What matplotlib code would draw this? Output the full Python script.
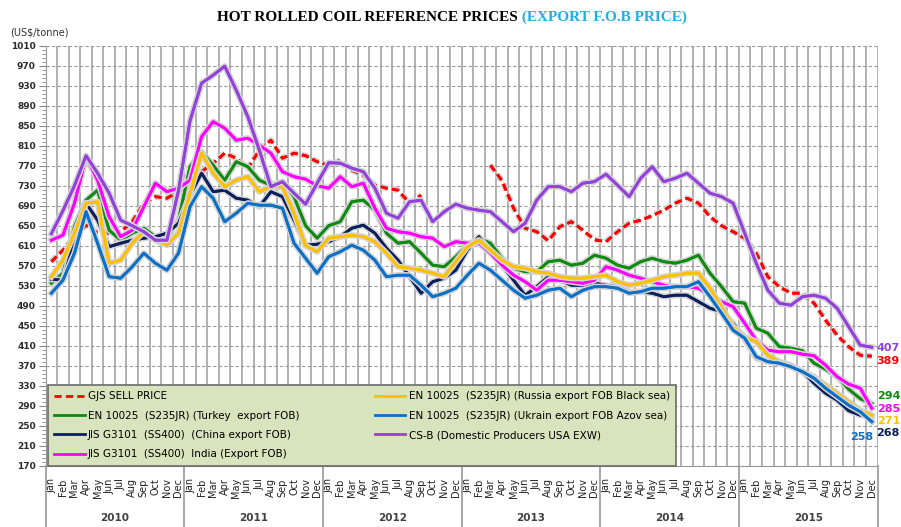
import matplotlib
matplotlib.use('Agg')
import matplotlib.pyplot as plt
import matplotlib.patheffects as pe
import matplotlib.transforms as mtransforms
import numpy as np

nan = np.nan

months = ['Jan', 'Feb', 'Mar', 'Apr', 'May', 'Jun',
          'Jul', 'Aug', 'Sep', 'Oct', 'Nov', 'Dec']
years = ['2010', '2011', '2012', '2013', '2014', '2015']

# monthly prices, Jan 2010 .. Dec 2015 (US$/tonne)
gjs = [578, 601, 628, 651, 636, 635, 638, 658, 695, 708, 705, 718,
       728, 758, 775, 795, 785, 765, 801, 821, 785, 795, 790, 778,
       770, 781, 761, 751, 731, 725, 721, 695, 711, nan, nan, nan,
       nan, nan, 771, 740, 685, 645, 638, 620, 648, 658, 641, 622,
       618, 638, 655, 661, 670, 681, 695, 705, 695, 668, 650, 638,
       625, 595, 548, 528, 515, 515, 495, 461, 431, 408, 391, 389]
turkey = [535, 555, 648, 701, 721, 641, 621, 635, 645, 628, 625, 661,
          768, 798, 771, 741, 778, 768, 741, 731, 738, 708, 650, 625,
          650, 658, 698, 701, 681, 635, 615, 618, 595, 571, 568, 588,
          611, 625, 615, 585, 565, 558, 558, 578, 581, 571, 575, 591,
          585, 571, 565, 578, 585, 578, 575, 581, 591, 555, 528, 498,
          495, 445, 435, 408, 405, 400, 375, 363, 348, 323, 304, 294]
china = [543, 541, 621, 695, 661, 608, 615, 621, 625, 628, 635, 655,
         711, 755, 718, 721, 705, 701, 688, 718, 708, 661, 611, 613,
         618, 628, 645, 651, 635, 605, 581, 548, 515, 538, 545, 561,
         601, 628, 598, 571, 541, 511, 528, 548, 541, 531, 531, 535,
         531, 528, 518, 518, 515, 508, 511, 511, 498, 485, 478, 455,
         423, 385, 378, 376, 368, 358, 335, 315, 301, 280, 271, 268]
india = [621, 631, 695, 788, 741, 668, 628, 641, 688, 735, 718, 725,
         741, 828, 858, 845, 821, 825, 811, 795, 758, 748, 743, 730,
         725, 748, 728, 735, 685, 645, 638, 635, 628, 625, 608, 618,
         615, 615, 595, 571, 551, 538, 521, 541, 541, 538, 535, 541,
         568, 561, 551, 545, 538, 531, 528, 528, 525, 511, 498, 488,
         455, 421, 401, 398, 398, 393, 390, 371, 348, 333, 325, 285]
russia = [548, 581, 635, 695, 698, 575, 581, 615, 638, 621, 611, 635,
          715, 795, 755, 728, 741, 748, 718, 728, 728, 675, 610, 598,
          625, 628, 631, 628, 618, 595, 568, 565, 561, 555, 548, 578,
          608, 621, 601, 581, 568, 565, 558, 555, 548, 545, 545, 548,
          551, 538, 531, 535, 541, 548, 551, 555, 555, 525, 488, 448,
          428, 418, 391, 378, 371, 358, 348, 331, 315, 298, 281, 271]
ukraine = [515, 541, 595, 678, 615, 548, 545, 568, 595, 575, 561, 595,
           688, 728, 705, 658, 675, 695, 691, 691, 685, 615, 585, 555,
           588, 598, 611, 601, 581, 548, 551, 551, 531, 508, 515, 525,
           551, 575, 561, 541, 521, 505, 511, 521, 525, 508, 521, 528,
           528, 525, 515, 518, 525, 525, 528, 528, 538, 508, 475, 441,
           425, 388, 378, 375, 368, 358, 345, 325, 308, 291, 278, 258]
usa = [634, 680, 730, 790, 755, 715, 661, 650, 638, 621, 621, 720,
       860, 935, 951, 969, 921, 868, 801, 728, 738, 715, 693, 735,
       776, 775, 765, 758, 725, 675, 665, 698, 701, 658, 678, 693,
       685, 681, 678, 658, 638, 655, 701, 728, 728, 718, 735, 738,
       753, 731, 708, 745, 768, 738, 745, 755, 735, 715, 708, 695,
       635, 575, 521, 495, 491, 508, 511, 505, 485, 448, 411, 407]

labels = ['GJS SELL PRICE',
          'EN 10025  (S235JR) (Turkey  export FOB)',
          'JIS G3101  (SS400)  (China export FOB)',
          'JIS G3101  (SS400)  India (Export FOB)',
          'EN 10025  (S235JR) (Russia export FOB Black sea)',
          'EN 10025  (S235JR) (Ukrain export FOB Azov sea)',
          'CS-B (Domestic Producers USA EXW)']
values = [gjs, turkey, china, india, russia, ukraine, usa]
colors = ['#ff0000', '#108a10', '#0a1f5c', '#ff00ff', '#ffc000', '#0a70c8', '#9440dd']
end_labels = ['389', '294', '268', '285', '271', '258', '407']
# label offsets in pixels from last point
end_offsets = [(5, -5), (5, 8), (4, -16), (5, -1), (5, -6), (-10, -15), (5, -1)]

fig = plt.figure(figsize=(9.01, 5.27), dpi=100)
ax = fig.add_axes([0.0506, 0.1163, 0.9234, 0.797])

x = np.arange(72)
handles = []
for lab, vals, col in zip(labels, values, colors):
    ls = (0, (2.6, 1.5)) if lab == 'GJS SELL PRICE' else '-'
    line, = ax.plot(x, vals, color=col, lw=2.0, linestyle=ls, label=lab,
                    solid_joinstyle='round', zorder=3,
                    path_effects=[pe.withStroke(linewidth=4.5, foreground='#d4d4d4'),
                                  pe.Normal()])
    handles.append(line)

for vals, col, txt, off in zip(values, colors, end_labels, end_offsets):
    ax.annotate(txt, xy=(71, vals[-1]), xytext=off, textcoords='offset pixels',
                ha='left' if off[0] > 0 else 'center', va='center',
                fontsize=8, fontweight='bold', color=col, annotation_clip=False)

ax.set_xlim(-0.5, 71.5)
ax.set_ylim(170, 1010)
ax.set_yticks(np.arange(170, 1011, 40))
ax.set_yticks(np.arange(170, 1011, 8), minor=True)
ax.set_xticks(x)
ax.set_xticklabels(months * 6, rotation=90, fontsize=7, color='#222222')
ax.set_xticks(np.arange(-0.5, 72, 1), minor=True)
ax.tick_params(axis='x', which='both', length=0, pad=9)
ax.tick_params(axis='y', which='major', length=5, color='#888888',
               labelsize=6.5, labelcolor='#2b2b2b', pad=2)
ax.tick_params(axis='y', which='minor', length=3, color='#888888')
for t in ax.get_yticklabels():
    t.set_fontweight('bold')

ax.yaxis.grid(True, which='major', linestyle=(0, (3, 2)), color='#9a9a9a', lw=0.8)
ax.xaxis.grid(True, which='minor', color='#ababab', lw=1.3)
ax.set_axisbelow(True)
for s in ['top', 'right']:
    ax.spines[s].set_visible(False)
ax.spines['left'].set_color('#999999')
ax.spines['bottom'].set_color('#999999')

trans = mtransforms.blended_transform_factory(ax.transData, ax.transAxes)
for k in range(7):
    ax.plot([12 * k - 0.5] * 2, [0, -0.15], transform=trans, clip_on=False,
            color='#a0a0a0', lw=1.3)
for k, yr in enumerate(years):
    ax.text(12 * k + 5.5, -0.125, yr, transform=trans, ha='center', va='center',
            fontsize=7.5, fontweight='bold', color='#404040')

leg = ax.legend(handles, labels, ncol=2, loc='lower left', bbox_to_anchor=(0.003, 0.0),
                borderaxespad=0, fontsize=7.5, frameon=True, facecolor='#d7e4bd',
                edgecolor='#6b6b6b', fancybox=False, framealpha=1, handlelength=2.9,
                handletextpad=0.3, columnspacing=7.3, labelspacing=0.9, borderpad=0.6)
leg.get_frame().set_linewidth(1.2)
for h in leg.legend_handles:
    h.set_path_effects([])
    h.set_linewidth(2.0)

t1 = fig.text(0.575, 0.960, 'HOT ROLLED COIL REFERENCE PRICES', ha='right', va='baseline',
              fontsize=11, fontweight='bold', family='Liberation Serif', color='black')
ax.annotate(' (EXPORT F.O.B PRICE)', xy=(1, 0), xycoords=t1, ha='left', va='bottom',
            fontsize=11, fontweight='bold', family='Liberation Serif', color='#1eaee8')
fig.text(0.011, 0.939, '(US$/tonne)', ha='left', va='center', fontsize=7, color='#333333')

fig.savefig('out.png', dpi=100)
